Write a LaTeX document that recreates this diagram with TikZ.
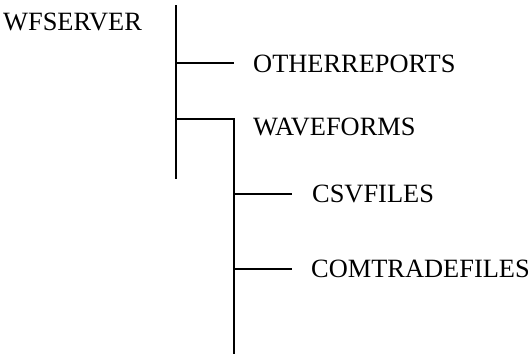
\documentclass[tikz,border=0pt]{standalone}
\usepackage{fontspec}
\setmainfont{Liberation Serif}
\usetikzlibrary{positioning}

\begin{document}
\begin{tikzpicture}[x=1pt,y=-1pt,
  dirname/.style={anchor=base west,inner sep=0pt,font=\fontsize{26.4}{30}\selectfont},
  branch/.style={line width=2pt,black}]
\useasboundingbox (0,0) rectangle (529,354);
\coordinate (roottop) at (176,5);
\coordinate (rootbot) at (176,179);
\coordinate (othj) at (176,63);
\coordinate (othe) at (234,63);
\coordinate (wavj) at (176,119);
\coordinate (wavc) at (234,119);
\coordinate (wavbot) at (234,354);
\coordinate (csvj) at (234,194);
\coordinate (csve) at (292,194);
\coordinate (comj) at (234,269);
\coordinate (come) at (292,269);
\node[dirname] (wfserver) at (3,30) {WFSERVER};
\node[dirname] (otherreports) at (253,72) {OTHERREPORTS};
\node[dirname] (waveforms) at (253,135) {WAVEFORMS};
\node[dirname] (csvfiles) at (312,202) {CSVFILES};
\node[dirname] (comtradefiles) at (311,277) {COMTRADEFILES};
\draw[branch] (roottop) -- (rootbot);
\draw[branch] (othj) -- (othe);
\draw[branch] (wavj) -- (wavc) -- (wavbot);
\draw[branch] (csvj) -- (csve);
\draw[branch] (comj) -- (come);
\end{tikzpicture}
\end{document}
